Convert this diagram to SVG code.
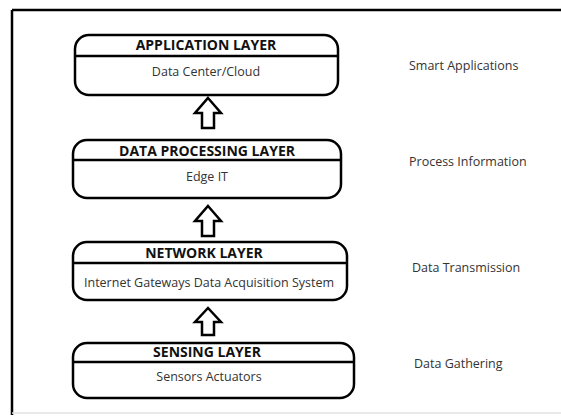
<svg xmlns="http://www.w3.org/2000/svg" width="561" height="417" viewBox="0 0 561 417">
<style>
.box{fill:#fff;stroke:#000;stroke-width:2.5}
.div{stroke:#000;stroke-width:2.5}
.t{font-family:"Open Sans","Noto Sans","Liberation Sans",sans-serif;font-size:14px;font-weight:bold;fill:#111;text-anchor:middle}
.s{font-family:"Open Sans","Noto Sans","Liberation Sans",sans-serif;font-size:12.5px;fill:#333;text-anchor:middle}
.r{font-family:"Open Sans","Noto Sans","Liberation Sans",sans-serif;font-size:12.5px;fill:#333}
.arr{fill:#fff;stroke:#000;stroke-width:2.5;stroke-linejoin:miter}
</style>
<rect width="561" height="417" fill="#fff"/>
<g id="frame">
<line x1="12" y1="10" x2="561" y2="10" stroke="#000" stroke-width="2.5"/>
<line x1="12" y1="10" x2="12" y2="415" stroke="#000" stroke-width="2.5"/>
<line x1="12" y1="413" x2="561" y2="413" stroke="#e2e2e2" stroke-width="1.5"/>
</g>
<g id="application">
<rect class="box" x="75" y="35" width="263" height="60" rx="14"/>
<line class="div" x1="75" y1="56" x2="338" y2="56"/>
<text class="t" x="206" y="50">APPLICATION LAYER</text>
<text class="s" x="206" y="76">Data Center/Cloud</text>
</g>
<g id="processing">
<rect class="box" x="73" y="140" width="268" height="58" rx="14"/>
<line class="div" x1="73" y1="160" x2="341" y2="160"/>
<text class="t" x="207" y="156">DATA PROCESSING LAYER</text>
<text class="s" x="207" y="181">Edge IT</text>
</g>
<g id="network">
<rect class="box" x="73" y="242" width="274" height="58" rx="14"/>
<line class="div" x1="73" y1="263" x2="347" y2="263"/>
<text class="t" x="204" y="258">NETWORK LAYER</text>
<text class="s" x="209" y="287">Internet Gateways Data Acquisition System</text>
</g>
<g id="sensing">
<rect class="box" x="73" y="343" width="281" height="55" rx="14"/>
<line class="div" x1="73" y1="362" x2="354" y2="362"/>
<text class="t" x="207" y="357">SENSING LAYER</text>
<text class="s" x="209" y="381">Sensors Actuators</text>
</g>
<g id="labels">
<text class="r" x="409" y="70">Smart Applications</text>
<text class="r" x="409" y="166">Process Information</text>
<text class="r" x="412" y="272">Data Transmission</text>
<text class="r" x="414" y="368">Data Gathering</text>
</g>
<g id="connectors">
<path class="arr" d="M208 98 L221 113 L214 113 L214 128 L202 128 L202 113 L195 113 Z"/>
<path class="arr" d="M208 206 L221 221 L214 221 L214 236 L202 236 L202 221 L195 221 Z"/>
<path class="arr" d="M208 308 L221 322 L214 322 L214 335 L202 335 L202 322 L195 322 Z"/>
</g>
</svg>
